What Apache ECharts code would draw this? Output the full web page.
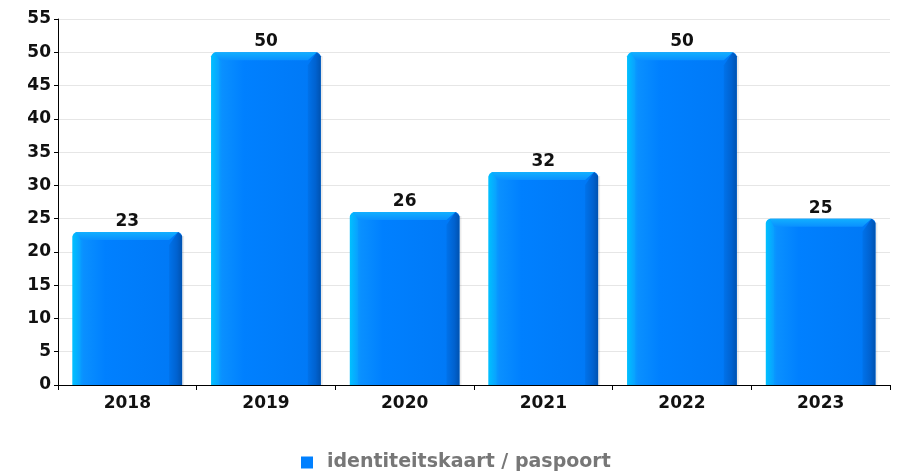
<!DOCTYPE html>
<html><head><meta charset="utf-8">
<script src="https://cdn.jsdelivr.net/npm/echarts@6/dist/echarts.min.js"></script>
<style>html,body{margin:0;padding:0;background:#fff}#c{width:901px;height:471px}</style>
</head><body><div id="c"></div>
<script>
const categories = ['2018','2019','2020','2021','2022','2023'];
const values = [23, 50, 26, 32, 50, 25];
const seriesName = 'identiteitskaart / paspoort';
const yTicks = {min: 0, max: 55, interval: 5};

const chart = echarts.init(document.getElementById('c'));
const font = 'DejaVu Sans';
const frontGrad = {
  type: 'linear', x: 0, y: 0, x2: 1, y2: 0,
  colorStops: [
    {offset: 0, color: '#00b8ff'},
    {offset: 0.1, color: '#0a90ff'},
    {offset: 0.3, color: '#0080ff'},
    {offset: 1, color: '#0078f5'}
  ]
};
function renderItem(params, api) {
  const idx = api.value(0);
  const v = api.value(1);
  const top = api.coord([idx, v]);
  const bot = api.coord([idx, 0]);
  const bw = api.size([1, 0])[0] * 0.79;
  const x0 = top[0] - bw / 2, x1 = top[0] + bw / 2;
  const y0 = top[1], y1 = bot[1];
  const b = 8, br = 13;
  return {
    type: 'group',
    children: [
      {type: 'rect', shape: {x: x1 - 1, y: y0 + 4, width: 3, height: y1 - y0 - 4},
        style: {fill: 'rgba(0,0,0,0.08)'}},
      {type: 'rect', shape: {x: x0, y: y0, width: bw, height: y1 - y0, r: [5, 5, 0, 0]},
        style: {fill: frontGrad}},
      {type: 'polygon', shape: {points: [[x1 - 4, y0], [x1, y0 + 4], [x1, y1], [x1 - br, y1], [x1 - br, y0 + b + 5]]},
        style: {fill: {type: 'linear', x: 0, y: 0, x2: 1, y2: 0,
          colorStops: [{offset: 0, color: '#0072ea'}, {offset: 0.6, color: '#0062d0'}, {offset: 1, color: '#0052b0'}]}}},
      {type: 'polygon', shape: {points: [[x0 + 4, y0], [x1 - 4, y0], [x1 - br, y0 + b], [x0 + b, y0 + b]]},
        style: {fill: {type: 'linear', x: 0, y: 0, x2: 0, y2: 1,
          colorStops: [{offset: 0, color: '#12b0ff'}, {offset: 1, color: '#0a90ff'}]}}},
      {type: 'polygon', shape: {points: [[x0, y0 + 4], [x0 + 4, y0], [x0 + b, y0 + b], [x0 + b, y1], [x0, y1]]},
        style: {fill: {type: 'linear', x: 0, y: 0, x2: 1, y2: 0,
          colorStops: [{offset: 0, color: '#00c0ff'}, {offset: 1, color: '#0aa0ff'}]}}},
      {type: 'text', x: top[0], y: y0 - 2,
        style: {text: String(v), textAlign: 'center', textVerticalAlign: 'bottom',
          fontFamily: font, fontWeight: 'bold', fontSize: 17, fill: '#111'}}
    ]
  };
}
chart.setOption({
  animation: false,
  grid: {left: 58, right: 11, top: 19, bottom: 86},
  legend: {
    left: 296, top: 448, itemWidth: 12, itemHeight: 12, icon: 'rect', itemGap: 10,
    textStyle: {fontFamily: font, fontWeight: 'bold', fontSize: 19, color: '#777', padding: [0, 0, 0, 9]},
    data: [{name: seriesName, itemStyle: {color: '#0080ff'}}]
  },
  xAxis: {
    type: 'category', data: categories,
    axisLine: {lineStyle: {color: '#000', width: 1}},
    axisTick: {show: true, alignWithLabel: false, length: 5, lineStyle: {color: '#000'}},
    axisLabel: {fontFamily: font, fontWeight: 'bold', fontSize: 17, color: '#111', margin: 10}
  },
  yAxis: {
    type: 'value', min: yTicks.min, max: yTicks.max, interval: yTicks.interval,
    axisLine: {show: true, lineStyle: {color: '#000', width: 1}},
    axisTick: {show: true, length: 4, lineStyle: {color: '#000'}},
    axisLabel: {fontFamily: font, fontWeight: 'bold', fontSize: 17, color: '#111', margin: 7},
    splitLine: {lineStyle: {color: '#e6e6e6', width: 1}}
  },
  series: [{
    name: seriesName, type: 'custom', renderItem: renderItem,
    data: values.map((v, i) => [i, v]),
    encode: {x: 0, y: 1},
    itemStyle: {color: '#0080ff'}
  }]
});
</script></body></html>
